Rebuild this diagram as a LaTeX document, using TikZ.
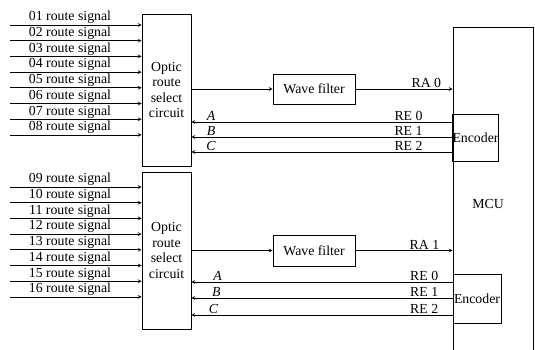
\documentclass[tikz,border=0pt]{standalone}
\usepackage{fontspec}
\setmainfont{Liberation Serif}
\begin{document}
\begin{tikzpicture}[x=1pt,y=-1pt,>=stealth,font=\fontsize{13.8}{15.6}\selectfont,
  box/.style={draw,line width=0.8pt,inner sep=0pt,align=center},
  sig/.style={->,line width=0.7pt},
  lbl/.style={inner sep=1pt}]
\useasboundingbox (0,0) rectangle (535,350);

\node[box,minimum width=49,minimum height=152] (osc1) at (166.5,90) {Optic\\route\\select\\circuit};
\node[box,minimum width=49,minimum height=157] (osc2) at (166.5,250.5) {Optic\\route\\select\\circuit};
\node[box,minimum width=82,minimum height=30] (wf1) at (314,89) {Wave filter};
\node[box,minimum width=82,minimum height=31] (wf2) at (314,250.5) {Wave filter};
\node[box,minimum width=80,minimum height=340] (mcu) at (493,197) {};
\node (mcutxt) at (488,204) {MCU};
\node[box,minimum width=45,minimum height=47] (enc1) at (475.5,137.5) {Encoder};
\node[box,minimum width=48,minimum height=49] (enc2) at (477,298.5) {Encoder};

% route signals
\foreach \n [count=\i from 0] in {01,02,03,04,05,06,07,08}{
  \coordinate (s\n) at (10,25+15.7*\i);
  \draw[sig] (s\n) -- (s\n -| osc1.west);
  \node[lbl,anchor=south] (l\n) at (70,25+15.7*\i) {\n\ route signal};
}
\foreach \n [count=\i from 0] in {09,10,11,12,13,14,15,16}{
  \coordinate (s\n) at (10,187+15.7*\i);
  \draw[sig] (s\n) -- (s\n -| osc2.west);
  \node[lbl,anchor=south] (l\n) at (70,187+15.7*\i) {\n\ route signal};
}

\draw[sig] (wf1.west -| osc1.east) -- (wf1.west);
\draw[sig] (wf2.west -| osc2.east) -- (wf2.west);
\draw[sig] (wf1.east) -- (wf1.east -| mcu.west) node[lbl,pos=0.73,above] (ra0) {RA 0};
\draw[sig] (wf2.east) -- (wf2.east -| mcu.west) node[lbl,pos=0.71,above] (ra1) {RA 1};

\coordinate (a1) at (453,122); \coordinate (b1) at (453,137); \coordinate (c1) at (453,152);
\coordinate (a2) at (453,282); \coordinate (b2) at (453,298); \coordinate (c2) at (453,315);
\draw[sig] (a1) -- (a1 -| osc1.east) node[lbl,pos=0.17,above] (re0a) {RE 0} node[lbl,pos=0.925,above] (la1) {\textit{A}};
\draw[sig] (b1) -- (b1 -| osc1.east) node[lbl,pos=0.17,above] (re1a) {RE 1} node[lbl,pos=0.925,above] (lb1) {\textit{B}};
\draw[sig] (c1) -- (c1 -| osc1.east) node[lbl,pos=0.17,above] (re2a) {RE 2} node[lbl,pos=0.925,above] (lc1) {\textit{C}};
\draw[sig] (a2) -- (a2 -| osc2.east) node[lbl,pos=0.11,above] (re0b) {RE 0} node[lbl,pos=0.9,above] (la2) {\textit{A}};
\draw[sig] (b2) -- (b2 -| osc2.east) node[lbl,pos=0.11,above] (re1b) {RE 1} node[lbl,pos=0.905,above] (lb2) {\textit{B}};
\draw[sig] (c2) -- (c2 -| osc2.east) node[lbl,pos=0.11,above] (re2b) {RE 2} node[lbl,pos=0.915,above] (lc2) {\textit{C}};

\end{tikzpicture}
\end{document}
